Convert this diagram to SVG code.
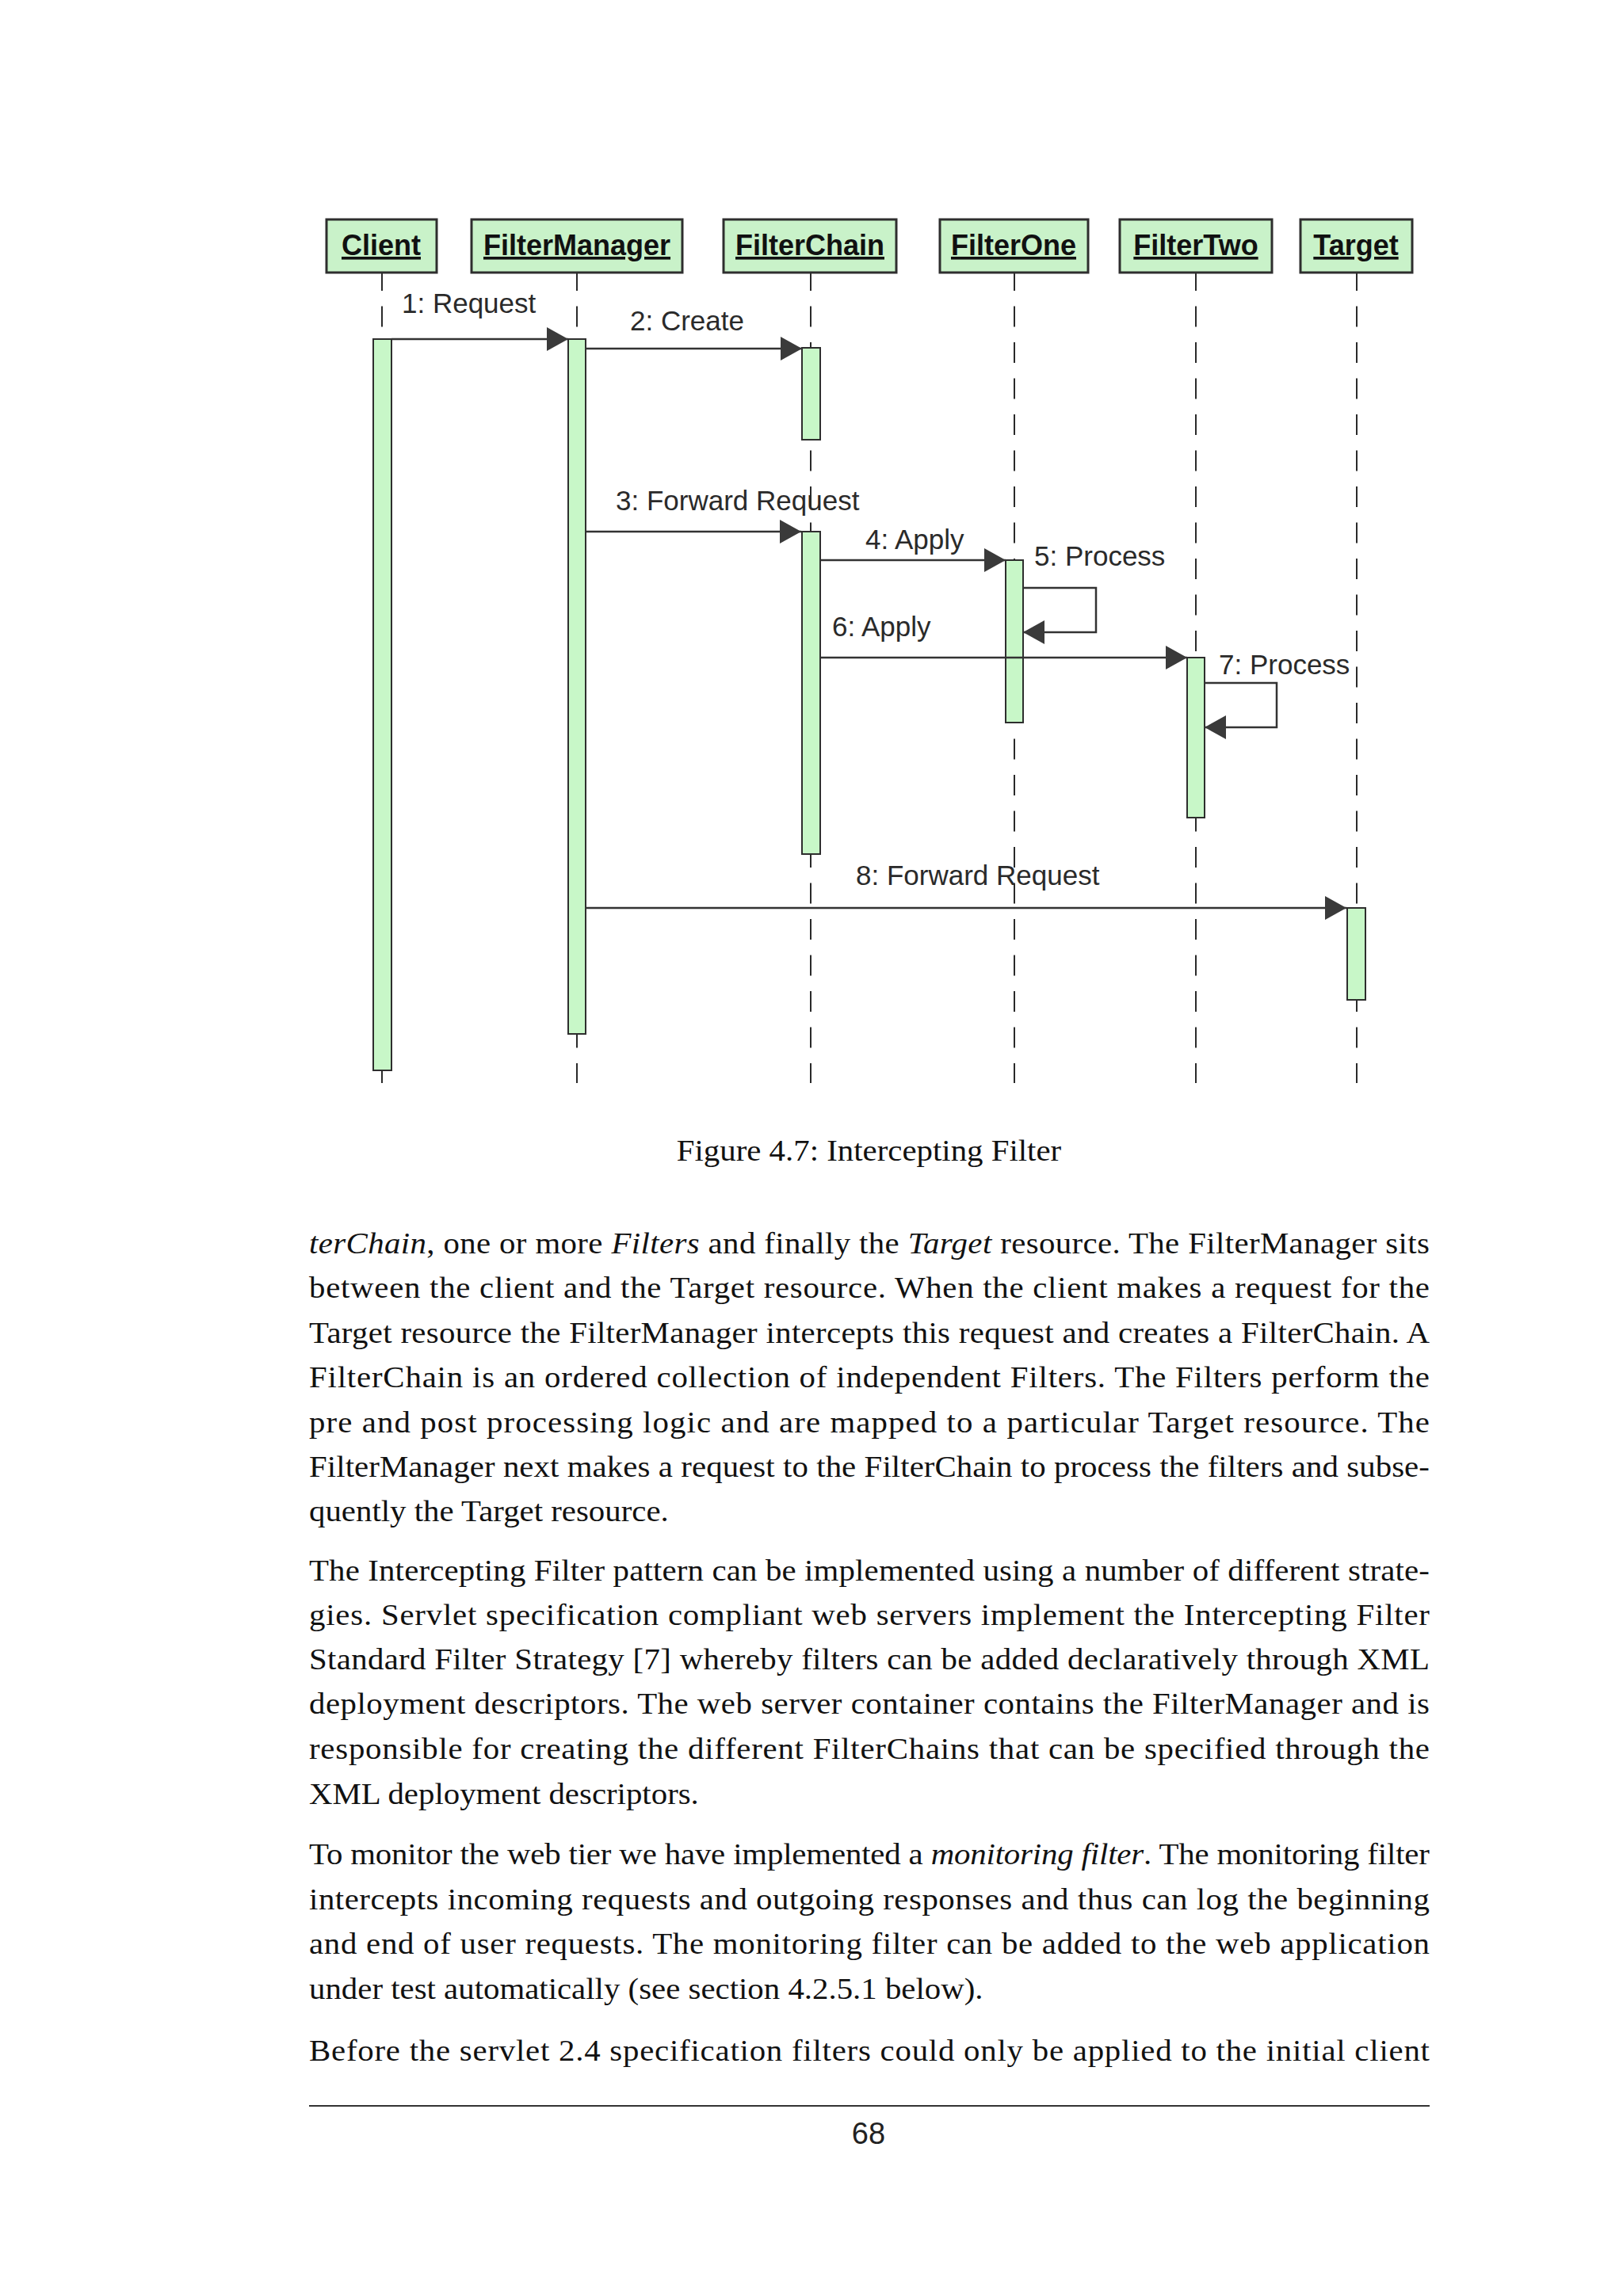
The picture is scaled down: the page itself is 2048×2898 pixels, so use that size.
<svg xmlns="http://www.w3.org/2000/svg" width="2048" height="2898" viewBox="0 0 2048 2898">
  <defs>
    <marker id="arr" markerUnits="userSpaceOnUse" markerWidth="28" markerHeight="30" refX="27" refY="15" orient="auto">
      <path d="M0,0 L27,15 L0,30 Z" fill="#3a3a3a"/>
    </marker>
    <style>
      .hdr { fill: #c9f2c9; stroke: #2e2e2e; stroke-width: 3; }
      .hdrtxt { font-family: "Liberation Sans", Arial, sans-serif; font-weight: bold; font-size: 36px; fill: #111; text-anchor: middle; text-decoration: underline; }
      .life { stroke: #2a2a2a; stroke-width: 2; stroke-dasharray: 26 19.5; fill: none; }
      .bar { fill: #c8f7c8; stroke: #2e2e2e; stroke-width: 2; }
      .msg { stroke: #333; stroke-width: 2.5; fill: none; marker-end: url(#arr); }
      .lbl { font-family: "Liberation Sans", Arial, sans-serif; font-size: 35px; fill: #2a2a2a; }
      .body { font-family: "Liberation Serif", "Times New Roman", serif; font-size: 38px; fill: #111; }
      .it { font-style: italic; }
    </style>
  </defs>
  <rect x="0" y="0" width="2048" height="2898" fill="#ffffff"/>

  <g id="lifelines">
    <line class="life" x1="482" y1="341" x2="482" y2="1367"/>
    <line class="life" x1="728" y1="341" x2="728" y2="1367"/>
    <line class="life" x1="1023" y1="341" x2="1023" y2="1367"/>
    <line class="life" x1="1280" y1="341" x2="1280" y2="1367"/>
    <line class="life" x1="1509" y1="341" x2="1509" y2="1367"/>
    <line class="life" x1="1712" y1="341" x2="1712" y2="1367"/>
  </g>

  <g id="node-client">
    <rect class="hdr" x="412" y="277" width="139" height="67"/>
    <text class="hdrtxt" x="481" y="322">Client</text>
    <rect class="bar" x="471" y="428" width="23" height="923"/>
  </g>
  <g id="node-filtermanager">
    <rect class="hdr" x="595" y="277" width="266" height="67"/>
    <text class="hdrtxt" x="728" y="322">FilterManager</text>
    <rect class="bar" x="717" y="428" width="22" height="877"/>
  </g>
  <g id="node-filterchain">
    <rect class="hdr" x="913" y="277" width="218" height="67"/>
    <text class="hdrtxt" x="1022" y="322">FilterChain</text>
    <rect class="bar" x="1012" y="439" width="23" height="116"/>
    <rect class="bar" x="1012" y="671" width="23" height="407"/>
  </g>
  <g id="node-filterone">
    <rect class="hdr" x="1186" y="277" width="187" height="67"/>
    <text class="hdrtxt" x="1279" y="322">FilterOne</text>
    <rect class="bar" x="1269" y="707" width="22" height="205"/>
  </g>
  <g id="node-filtertwo">
    <rect class="hdr" x="1413" y="277" width="192" height="67"/>
    <text class="hdrtxt" x="1509" y="322">FilterTwo</text>
    <rect class="bar" x="1498" y="830" width="22" height="202"/>
  </g>
  <g id="node-target">
    <rect class="hdr" x="1641" y="277" width="141" height="67"/>
    <text class="hdrtxt" x="1711" y="322">Target</text>
    <rect class="bar" x="1700" y="1146" width="23" height="116"/>
  </g>

  <g id="connectors">
    <line class="msg" x1="494" y1="428" x2="717" y2="428"/>
    <line class="msg" x1="739" y1="440" x2="1012" y2="440"/>
    <line class="msg" x1="739" y1="671" x2="1011" y2="671"/>
    <line class="msg" x1="1035" y1="707" x2="1269" y2="707"/>
    <path class="msg" d="M1291,742 H1383 V798 H1291"/>
    <line class="msg" x1="1035" y1="830" x2="1498" y2="830"/>
    <path class="msg" d="M1520,862 H1611 V918 H1520"/>
    <line class="msg" x1="739" y1="1146" x2="1699" y2="1146"/>
  </g>

  <g id="labels">
    <text class="lbl" x="507" y="395">1: Request</text>
    <text class="lbl" x="795" y="417">2: Create</text>
    <text class="lbl" x="777" y="644">3: Forward Request</text>
    <text class="lbl" x="1092" y="693">4: Apply</text>
    <text class="lbl" x="1305" y="714">5: Process</text>
    <text class="lbl" x="1050" y="803">6: Apply</text>
    <text class="lbl" x="1538" y="851">7: Process</text>
    <text class="lbl" x="1080" y="1117">8: Forward Request</text>
  </g>

  <g id="page-text" transform="translate(390 0) scale(1.075 1)">
    <text class="body" x="657.2" y="1465" text-anchor="middle">Figure 4.7: Intercepting Filter</text>

    <text class="body" x="0" y="1582" textLength="1315.3" lengthAdjust="spacing"><tspan class="it">terChain</tspan>, one or more <tspan class="it">Filters</tspan> and finally the <tspan class="it">Target</tspan> resource.  The FilterManager sits</text>
    <text class="body" x="0" y="1638" textLength="1315.3" lengthAdjust="spacing">between the client and the Target resource.  When the client makes a request for the</text>
    <text class="body" x="0" y="1695" textLength="1315.3" lengthAdjust="spacing">Target resource the FilterManager intercepts this request and creates a FilterChain.  A</text>
    <text class="body" x="0" y="1751" textLength="1315.3" lengthAdjust="spacing">FilterChain is an ordered collection of independent Filters.  The Filters perform the</text>
    <text class="body" x="0" y="1808" textLength="1315.3" lengthAdjust="spacing">pre and post processing logic and are mapped to a particular Target resource.  The</text>
    <text class="body" x="0" y="1864" textLength="1315.3" lengthAdjust="spacing">FilterManager next makes a request to the FilterChain to process the filters and subse-</text>
    <text class="body" x="0" y="1920">quently the Target resource.</text>

    <text class="body" x="0" y="1995" textLength="1315.3" lengthAdjust="spacing">The Intercepting Filter pattern can be implemented using a number of different strate-</text>
    <text class="body" x="0" y="2051" textLength="1315.3" lengthAdjust="spacing">gies.  Servlet specification compliant web servers implement the Intercepting Filter</text>
    <text class="body" x="0" y="2107" textLength="1315.3" lengthAdjust="spacing">Standard Filter Strategy [7] whereby filters can be added declaratively through XML</text>
    <text class="body" x="0" y="2163" textLength="1315.3" lengthAdjust="spacing">deployment descriptors. The web server container contains the FilterManager and is</text>
    <text class="body" x="0" y="2220" textLength="1315.3" lengthAdjust="spacing">responsible for creating the different FilterChains that can be specified through the</text>
    <text class="body" x="0" y="2277">XML deployment descriptors.</text>

    <text class="body" x="0" y="2353" textLength="1315.3" lengthAdjust="spacing">To monitor the web tier we have implemented a <tspan class="it">monitoring filter</tspan>. The monitoring filter</text>
    <text class="body" x="0" y="2410" textLength="1315.3" lengthAdjust="spacing">intercepts incoming requests and outgoing responses and thus can log the beginning</text>
    <text class="body" x="0" y="2466" textLength="1315.3" lengthAdjust="spacing">and end of user requests.  The monitoring filter can be added to the web application</text>
    <text class="body" x="0" y="2523">under test automatically (see section 4.2.5.1 below).</text>

    <text class="body" x="0" y="2601" textLength="1315.3" lengthAdjust="spacing">Before the servlet 2.4 specification filters could only be applied to the initial client</text>
  </g>

  <line x1="390" y1="2658" x2="1804" y2="2658" stroke="#333" stroke-width="2"/>
  <text x="1096" y="2706" text-anchor="middle" font-family="Liberation Sans, Arial, sans-serif" font-size="38" fill="#222">68</text>
</svg>
